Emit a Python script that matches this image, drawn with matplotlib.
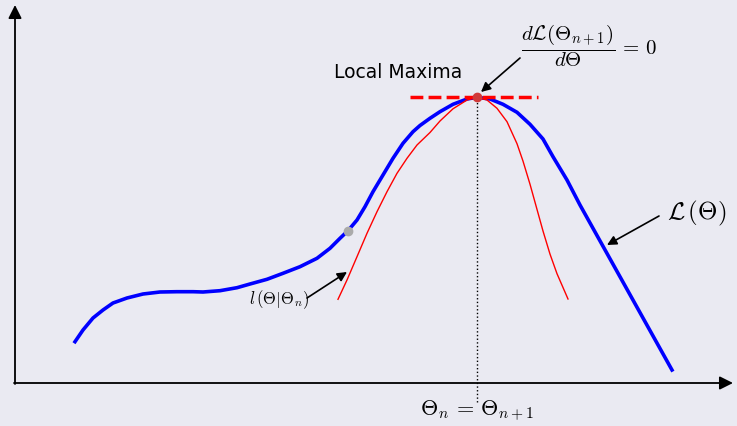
import matplotlib
matplotlib.use("Agg")
import matplotlib.pyplot as plt

plt.rcParams['mathtext.fontset'] = 'cm'
plt.rcParams['font.family'] = ['DejaVu Sans']

bg = '#eaeaf2'

# likelihood curve L(theta)
theta_L = [75, 83, 93, 103, 113, 127, 143, 160, 177, 193, 203, 220, 237, 250,
           267, 283, 300, 317, 330, 340, 348, 357, 365, 373, 383, 393, 403,
           413, 420, 430, 440, 453, 467, 477, 490, 503, 517, 530, 543, 553,
           567, 580, 672]
L_vals = [84.3, 96, 108, 116, 123, 128, 132, 134, 134.3, 134.3, 134, 135.3,
          138.3, 142, 146.7, 152.7, 159.3, 167.7, 177.7, 187.7, 195.3, 206,
          219.3, 234.3, 251, 267.7, 282.7, 294.3, 300.5, 307.7, 314.3, 321.7,
          327, 328.7, 327, 321.7, 313.7, 301.7, 287, 269.3, 246, 221, 56]

# lower bound l(theta | theta_n)
theta_l = [338, 347, 357, 367, 377, 387, 397, 407, 417, 430, 440, 453, 467,
           477, 487, 497, 507, 517, 523, 530, 537, 543, 550, 557, 568]
l_vals = [126.7, 146, 169.3, 192.7, 214.3, 234.3, 252.7, 267.7, 281, 293.5,
          305, 317.2, 326, 328.7, 326, 317.7, 304.3, 282.3, 264.9, 241.8,
          216.6, 195, 171.9, 152.3, 127]

theta_n = 348
L_n = 195.3
theta_max = 477
L_max = 328.7


def arrow(ax, tail, head):
    ax.annotate('', xy=head, xytext=tail,
                arrowprops=dict(arrowstyle='-|>', color='black', lw=1.2,
                                shrinkA=0, shrinkB=0, mutation_scale=14))


def main():
    fig = plt.figure(figsize=(7.37, 4.26), dpi=100, facecolor=bg)
    ax = fig.add_axes([0, 0, 1, 1])
    ax.set_facecolor(bg)
    ax.set_xlim(0, 737)
    ax.set_ylim(0, 426)
    ax.axis('off')

    # axes arrows
    ax.annotate('', xy=(15, 421), xytext=(15, 42),
                arrowprops=dict(arrowstyle='-|>', color='black', lw=1.3,
                                shrinkA=0, shrinkB=0, mutation_scale=20))
    ax.annotate('', xy=(733, 43), xytext=(14, 43),
                arrowprops=dict(arrowstyle='-|>', color='black', lw=1.3,
                                shrinkA=0, shrinkB=0, mutation_scale=20))

    ax.plot(theta_L, L_vals, color='blue', lw=2.6, solid_joinstyle='round')
    ax.plot(theta_l, l_vals, color='red', lw=1.0, solid_joinstyle='round')

    # tangent at the maximum
    ax.plot([410, 538], [L_max, L_max], color='red', lw=2.5,
            dashes=(3.7, 1.5))
    ax.plot([theta_max, theta_max], [24, L_max], color='black', lw=1.0,
            linestyle=':')

    ax.plot(theta_n, L_n, 'o', color='#aaaaaa', ms=6, zorder=5)
    ax.plot(theta_max, L_max, 'o', color='#d03a3a', ms=6, zorder=5)

    ax.text(theta_max, 15, r'$\Theta_n\,=\,\Theta_{n+1}$', ha='center',
            va='center', fontsize=16)
    ax.text(398, 354, 'Local Maxima', ha='center', va='center', fontsize=13.5)

    ax.text(589, 380, r'$\dfrac{d\mathcal{L}(\Theta_{n+1})}{d\Theta}\,=\,0$',
            ha='center', va='center', fontsize=15)
    arrow(ax, (520, 368), (481, 334))

    ax.text(279, 126, r'$l\,(\Theta|\Theta_n)$', ha='center', va='center',
            fontsize=12)
    arrow(ax, (307, 128), (347, 154))

    ax.text(697, 213, r'$\mathcal{L}\,(\Theta)$', ha='center', va='center',
            fontsize=18)
    arrow(ax, (659, 210), (607, 181))

    fig.savefig('out.png', dpi=100, facecolor=bg)


if __name__ == "__main__":
    main()
